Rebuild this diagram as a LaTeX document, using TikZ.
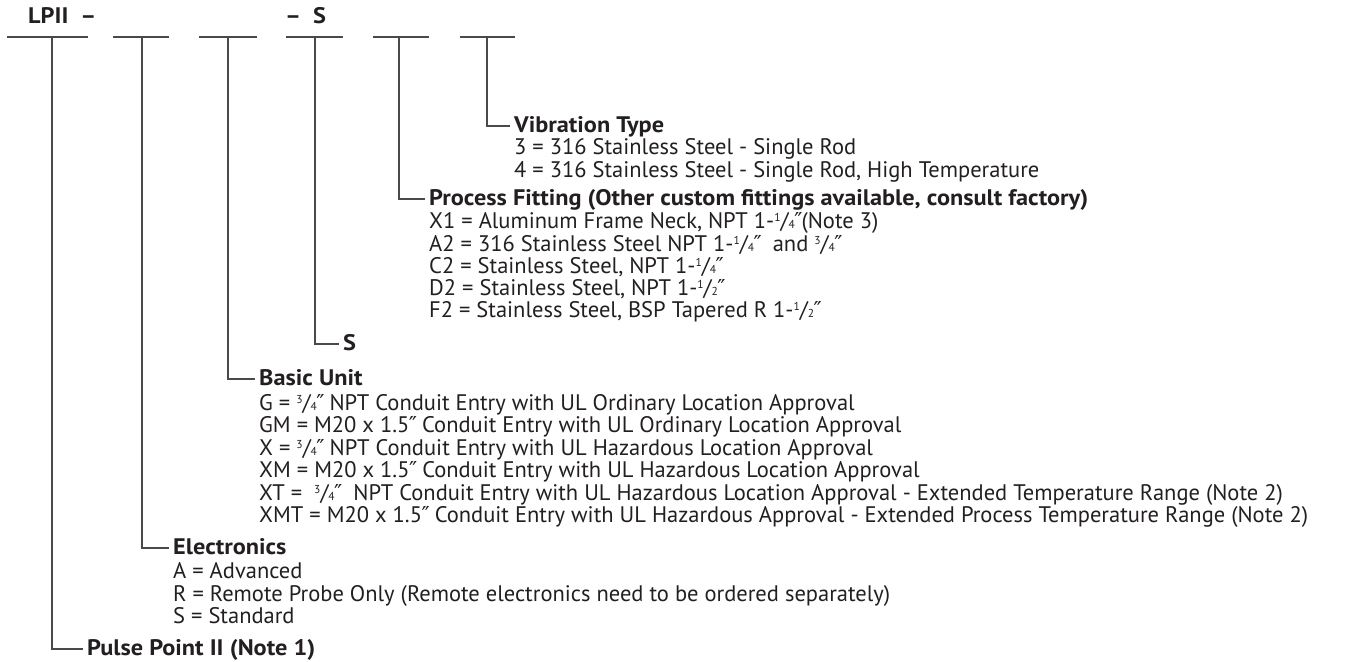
\documentclass[tikz,border=0pt]{standalone}
\usepackage{fontspec}
\setmainfont{PT Sans}[BoldFeatures={FakeStretch=1.08}]
\newfontfamily\dvs{DejaVu Sans}
\definecolor{ink}{HTML}{231F20}
\definecolor{rulec}{HTML}{4A4A4A}
\newcommand\fr[2]{\raisebox{6.8bp}{\fontsize{11.5bp}{11.5bp}\selectfont #1}/{\fontsize{11.5bp}{11.5bp}\selectfont #2}}
\newcommand\inch{{\dvs\fontsize{22bp}{22bp}\selectfont\kern-0.5bp ″\kern-1bp}}
\begin{document}
\begin{tikzpicture}[x=1bp,y=-1bp,
  txt/.style={anchor=base west, inner sep=0pt, text=ink, font=\fontsize{22.5bp}{22.5bp}\selectfont},
  hdr/.style={anchor=west, inner xsep=4bp, inner ysep=0pt, text height=13bp, text depth=0bp, text=ink, font=\fontsize{22.5bp}{22.5bp}\selectfont\bfseries},
  code/.style={anchor=base west, inner sep=0pt, text=ink, font=\fontsize{22.5bp}{22.5bp}\selectfont\bfseries},
  ln/.style={draw=rulec, line width=1.2bp}]
\useasboundingbox (0,0) rectangle (1351,662);

% top code
\node[code] (lpii) at (28,24) {LPII\hspace{12bp}–};
\node[code] (sdash) at (285,24) {–\hspace{12bp}S};

% blank segments
\draw[ln] (7,37) -- (88,37);
\draw[ln] (113,37) -- (169,37);
\draw[ln] (199,37) -- (257,37);
\draw[ln] (286,37) -- (343,37);
\draw[ln] (373,37) -- (429,37);
\draw[ln] (460,37) -- (515,37);
\coordinate (t1) at (52,37);
\coordinate (t2) at (142,37);
\coordinate (t3) at (228,37);
\coordinate (t4) at (315,37);
\coordinate (t5) at (399,37);
\coordinate (t6) at (487,37);

% Vibration Type
\node[hdr] (vib) at (510,126) {Vibration Type};
\node[txt] (vib1) at (514,154) {3 = 316 Stainless Steel - Single Rod};
\node[txt] (vib2) at (514,177) {4 = 316 Stainless Steel - Single Rod, High Temperature};

% Process Fitting
\node[hdr] (pf) at (425,199) {Process Fitting (Other custom fittings available, consult factory)};
\node[txt] (pf1) at (429,228) {X1 = Aluminum Frame Neck, NPT 1-\fr14\inch(Note 3)};
\node[txt] (pf2) at (429,251) {A2 = 316 Stainless Steel NPT 1-\fr14\inch\ \ and \fr34\inch};
\node[txt] (pf3) at (429,273) {C2 = Stainless Steel, NPT 1-\fr14\inch};
\node[txt] (pf4) at (429,295) {D2 = Stainless Steel, NPT 1-\fr12\inch};
\node[txt] (pf5) at (429,317) {F2 = Stainless Steel, BSP Tapered R 1-\fr12\inch};

% S
\node[hdr] (s) at (339,344) {S};

% Basic Unit
\node[hdr] (bu) at (255,379) {Basic Unit};
\node[txt] (bu1) at (259,410) {G = \fr34\inch\ NPT Conduit Entry with UL Ordinary Location Approval};
\node[txt] (bu2) at (259,432) {GM = M20 x 1.5\inch\ Conduit Entry with UL Ordinary Location Approval};
\node[txt] (bu3) at (259,455) {X = \fr34\inch\ NPT Conduit Entry with UL Hazardous Location Approval};
\node[txt] (bu4) at (259,477) {XM = M20 x 1.5\inch\ Conduit Entry with UL Hazardous Location Approval};
\node[txt] (bu5) at (259,500) {XT = \ \fr34\inch\ \ NPT Conduit Entry with UL Hazardous Location Approval - Extended Temperature Range (Note 2)};
\node[txt] (bu6) at (259,522) {XMT = M20 x 1.5\inch\ Conduit Entry with UL Hazardous Approval - Extended Process Temperature Range (Note 2)};

% Electronics
\node[hdr] (el) at (169,548) {Electronics};
\node[txt] (el1) at (173,578) {A = Advanced};
\node[txt] (el2) at (173,601) {R = Remote Probe Only (Remote electronics need to be ordered separately)};
\node[txt] (el3) at (173,623) {S = Standard};

% Pulse Point
\node[hdr] (pp) at (83,649) {Pulse Point II (Note 1)};

% connectors
\draw[ln] (t1) |- (pp.west);
\draw[ln] (t2) |- (el.west);
\draw[ln] (t3) |- (bu.west);
\draw[ln] (t4) |- (s.west);
\draw[ln] (t5) |- (pf.west);
\draw[ln] (t6) |- (vib.west);
\end{tikzpicture}
\end{document}
